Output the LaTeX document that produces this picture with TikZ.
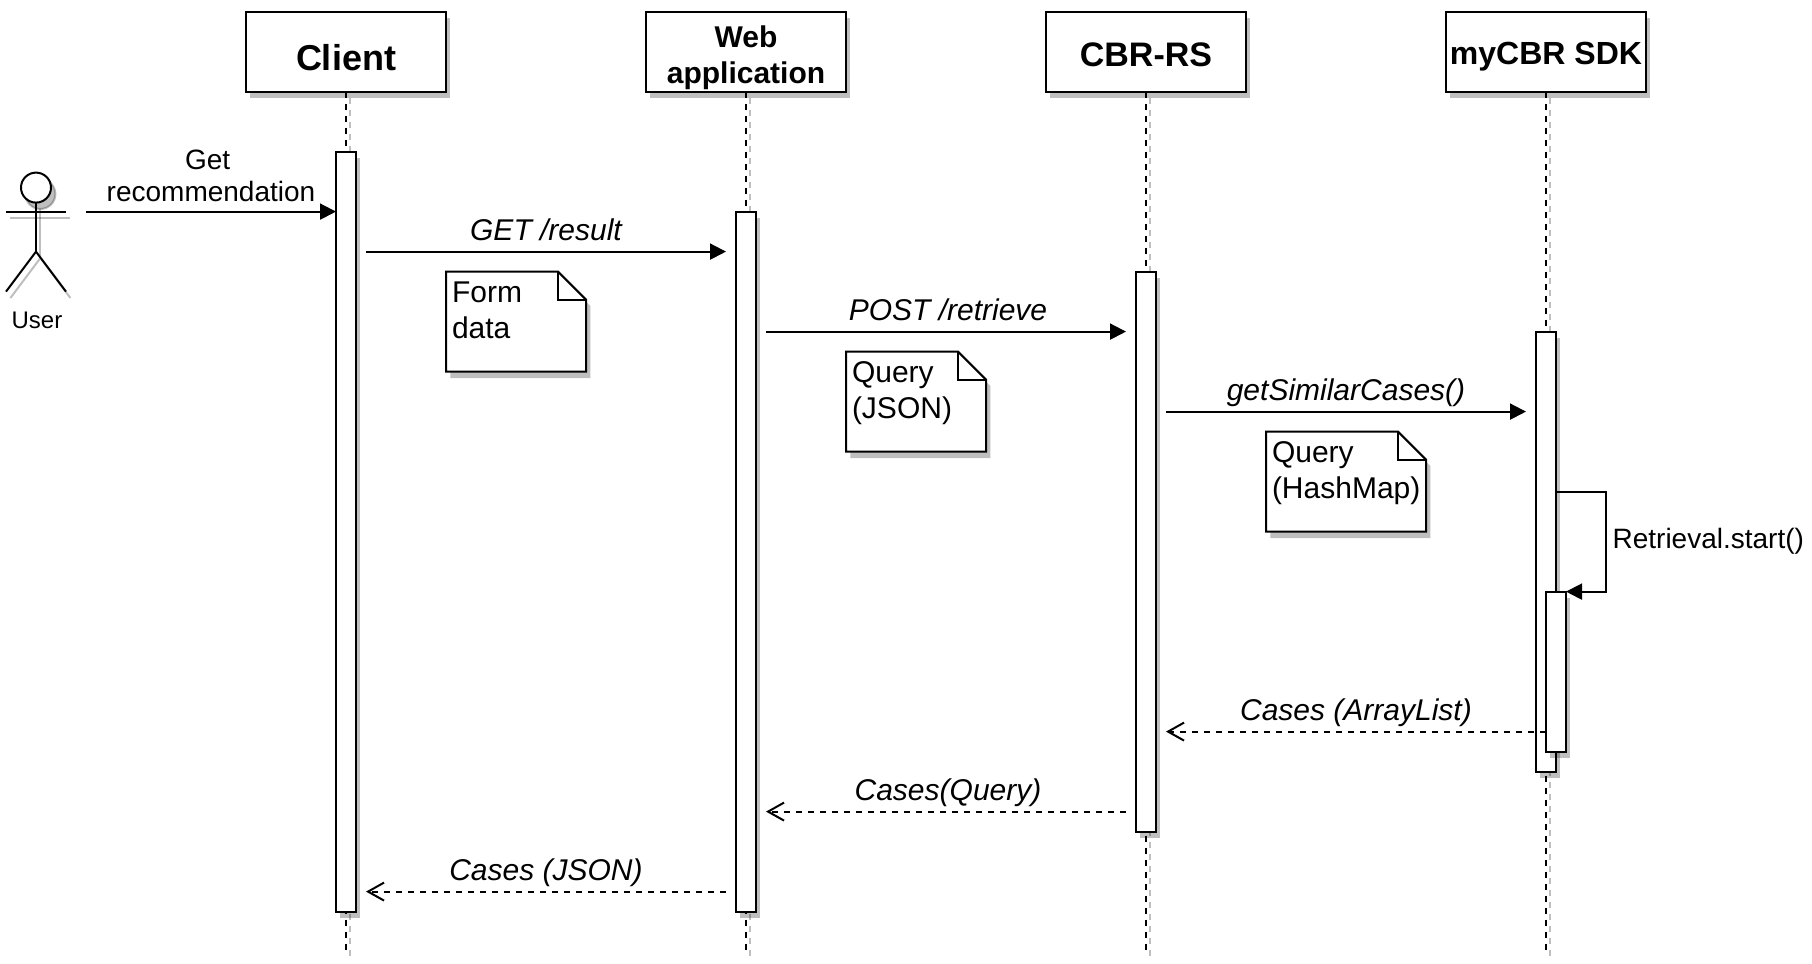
\documentclass[tikz,border=0pt]{standalone}
\usepackage{fontspec}
\setmainfont{Liberation Sans}
\usetikzlibrary{positioning}
\usetikzlibrary{arrows.meta}
\usetikzlibrary{shadows}
\usetikzlibrary{backgrounds}
\tikzset{
    softshadow/.style={drop shadow={shadow xshift=2.2pt, shadow yshift=-3.2pt, fill=black, opacity=0.25}},
    headbox/.style={draw, rectangle, fill=white, line width=1pt, minimum width=100pt, minimum height=40pt, inner sep=0pt, outer sep=0pt, align=center, softshadow},
    barbox/.style={draw, rectangle, fill=white, line width=1pt, minimum width=10pt, inner sep=0pt, outer sep=0pt, anchor=north, softshadow},
    notebox/.style={rectangle, anchor=north west, inner xsep=3pt, inner ysep=0pt, outer sep=0pt, text width=64pt, text height=15.5pt, text depth=34.5pt, align=left, font=\fontsize{15}{18}\selectfont},
    lifeline/.style={line width=1pt, dash pattern=on 3pt off 3pt},
    callline/.style={line width=1pt, -{Triangle[length=8pt, width=8pt]}},
    replyline/.style={line width=1pt, dash pattern=on 3pt off 3pt, -{Straight Barb[length=8pt, width=9pt]}},
    msglabel/.style={midway, anchor=base, yshift=5.5pt, inner sep=0pt, font=\fontsize{15}{18}\selectfont\itshape}
}
\begin{document}
\begin{tikzpicture}[x=1pt, y=-1pt, node distance=200pt]
    \useasboundingbox (0,0) rectangle (906,482);

    % Lifeline heads
    \node (clienthead) [headbox, text height=19pt, font=\fontsize{18}{20}\selectfont\bfseries] at (173,25.8) {Client};
    \node (webhead) [headbox, right of=clienthead, font=\fontsize{15}{18}\selectfont\bfseries] {\rule{0pt}{16.8pt}Web\\application};
    \node (cbrhead) [headbox, right of=webhead, text height=15pt, font=\fontsize{17}{20}\selectfont\bfseries] {CBR-RS};
    \node (sdkhead) [headbox, right of=cbrhead, text height=16.3pt, text depth=3.4pt, font=\fontsize{16}{18}\selectfont\bfseries] {myCBR SDK};

    % Dashed lifelines
    \foreach \head in {client,web,cbr,sdk} {
        \coordinate (\head end) at ([yshift=-430pt]\head head.south);
        \draw[lifeline, black, opacity=0.25, transform canvas={xshift=2.2pt, yshift=-3.2pt}] (\head head.south) -- (\head end);
        \draw[lifeline] (\head head.south) -- (\head end);
    }

    % Activation bars
    \node (clientbar) [barbox, minimum height=380pt] at (173,75.8) {};
    \node (webbar) [barbox, minimum height=350pt] at (373,105.8) {};
    \node (cbrbar) [barbox, minimum height=280pt] at (573,135.8) {};
    \node (sdkbar) [barbox, minimum height=220pt] at (773,165.8) {};
    \node (retrievebar) [barbox, minimum height=80pt] at (778,295.8) {};

    % User
    \foreach \dx/\dy/\col/\alpha in {2.2/3.2/black/0.25, 0/0/white/1} {
        \begin{scope}[shift={(\dx,\dy)}, line width=1pt, draw opacity=\alpha, fill opacity=\alpha]
            \draw[fill=\col] (18,93.8) circle [radius=7.5pt];
            \draw (18,101.3) -- (18,125.8);
            \draw (3,105.8) -- (33,105.8);
            \draw (3,145.8) -- (18,125.8) -- (33,145.8);
        \end{scope}
    }
    \node (userlabel) [inner sep=0pt, anchor=base, xshift=0.5pt, font=\fontsize{12}{14}\selectfont] at (18,164) {User};

    % Calls
    \coordinate (userfrom) at (43,105.8);
    \coordinate (userto) at (168,105.8);
    \draw[callline] (userfrom) -- node (getlabel) [midway, above, inner sep=0pt, yshift=4.2pt, align=center, font=\fontsize{14}{16}\selectfont] {Get\hspace*{3.4pt}\\recommendation} (userto);

    \coordinate (getfrom) at (183,125.8);
    \coordinate (getto) at (363,125.8);
    \draw[callline] (getfrom) -- node (getresult) [msglabel] {GET /result} (getto);

    \coordinate (postfrom) at (383,165.8);
    \coordinate (postto) at (563,165.8);
    \draw[callline] (postfrom) -- node (postretrieve) [msglabel, xshift=1pt] {POST /retrieve} (postto);

    \coordinate (similarfrom) at (583,205.8);
    \coordinate (similarto) at (763,205.8);
    \draw[callline] (similarfrom) -- node (similarcases) [msglabel] {getSimilarCases()} (similarto);

    % Self call
    \coordinate (loopfrom) at (778,245.8);
    \coordinate (looptop) at (803,245.8);
    \coordinate (loopbottom) at (803,295.8);
    \coordinate (loopto) at (783,295.8);
    \draw[callline] (loopfrom) -- (looptop) -- node (startlabel) [midway, anchor=west, inner sep=0pt, xshift=2.8pt, font=\fontsize{14}{16}\selectfont] {Retrieval.start()} (loopbottom) -- (loopto);

    % Replies
    \coordinate (arrayfrom) at (773,365.8);
    \coordinate (arrayto) at (583,365.8);
    \draw[replyline] (arrayfrom) -- node (arraylabel) [msglabel] {Cases (ArrayList)} (arrayto);

    \coordinate (queryfrom) at (563,405.8);
    \coordinate (queryto) at (383,405.8);
    \draw[replyline] (queryfrom) -- node (querylabel) [msglabel, xshift=1pt] {Cases(Query)} (queryto);

    \coordinate (jsonfrom) at (363,445.8);
    \coordinate (jsonto) at (183,445.8);
    \draw[replyline] (jsonfrom) -- node (jsonlabel) [msglabel] {Cases (JSON)} (jsonto);

    % Notes
    \node (formnote) [notebox] at (223,135.8) {Form\\data};
    \node (querynote) [notebox] at (423,175.8) {Query\\(JSON)};
    \node (hashnote) [notebox, text width=74pt] at (633,215.8) {Query\\(HashMap)};

    \begin{scope}[on background layer]
        \foreach \note in {formnote,querynote,hashnote} {
            \fill[black, opacity=0.25, transform canvas={xshift=2.2pt, yshift=-3.2pt}] (\note.north west) -- ([xshift=-14pt]\note.north east) -- ([yshift=-14pt]\note.north east) -- (\note.south east) -- (\note.south west) -- cycle;
            \draw[line width=1pt, fill=white] (\note.north west) -- ([xshift=-14pt]\note.north east) -- ([yshift=-14pt]\note.north east) -- (\note.south east) -- (\note.south west) -- cycle;
            \draw[line width=1pt] ([xshift=-14pt]\note.north east) -- ([xshift=-14pt, yshift=-14pt]\note.north east) -- ([yshift=-14pt]\note.north east);
        }
    \end{scope}
\end{tikzpicture}
\end{document}
